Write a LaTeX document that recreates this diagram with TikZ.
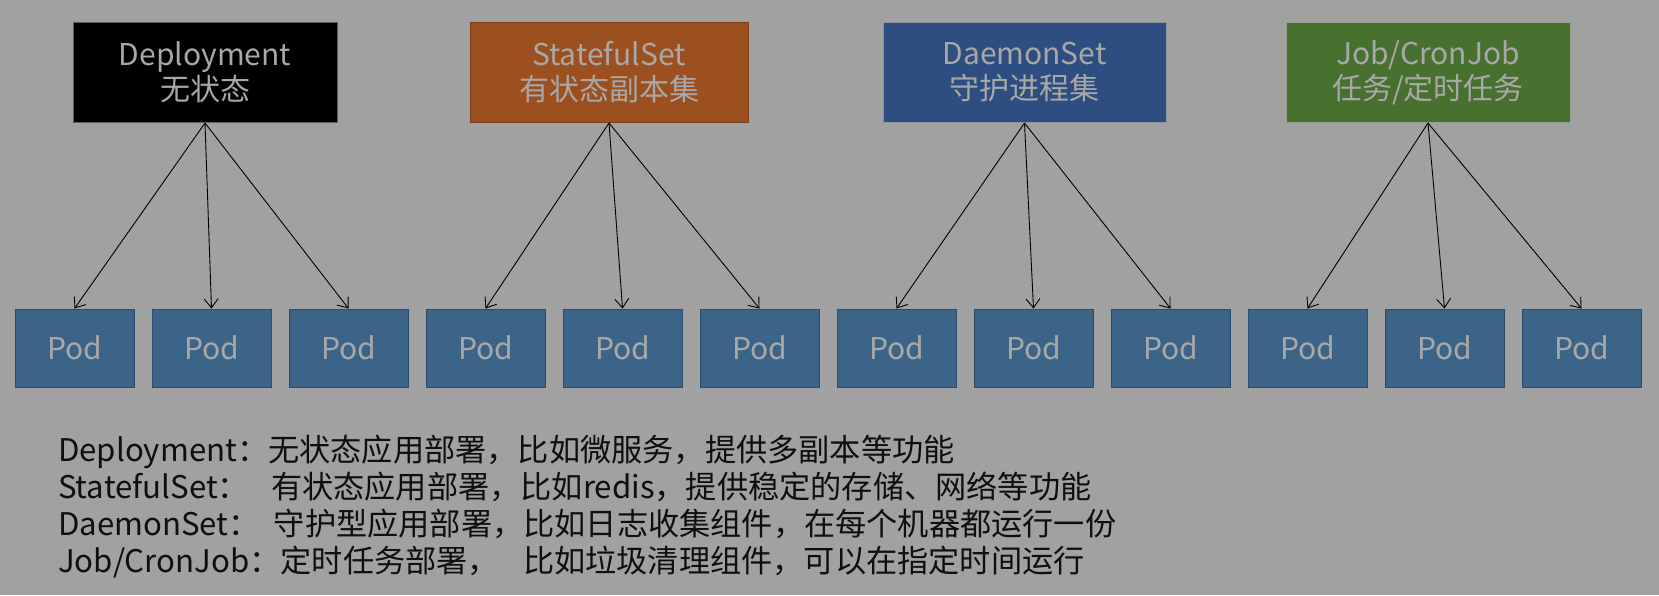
\documentclass[tikz,border=0pt]{standalone}
\usepackage{fontspec}
\setmainfont{Noto Sans CJK SC}
\usetikzlibrary{positioning, arrows.meta}

\definecolor{bggray}{RGB}{161,161,161}
\definecolor{boxtext}{RGB}{168,168,168}
\definecolor{desctext}{RGB}{15,15,15}
\definecolor{deplfill}{RGB}{0,0,0}
\definecolor{deplline}{RGB}{95,95,95}
\definecolor{stsfill}{RGB}{156,80,31}
\definecolor{stsline}{RGB}{122,62,24}
\definecolor{dsfill}{RGB}{46,77,128}
\definecolor{dsline}{RGB}{140,146,158}
\definecolor{jobfill}{RGB}{72,113,47}
\definecolor{jobline}{RGB}{150,160,145}
\definecolor{podfill}{RGB}{60,100,137}
\definecolor{podline}{RGB}{44,76,106}

\begin{document}
\begin{tikzpicture}[
			x=1pt, y=-1pt,
			node distance=17pt,
			ctrl/.style={rectangle, line width=1pt, minimum height=100pt, align=center, inner sep=0pt, text=boxtext, font=\fontsize{30}{35}\selectfont},
			pod/.style={rectangle, draw=podline, line width=1pt, fill=podfill, minimum width=119pt, minimum height=78pt, inner sep=0pt, text=boxtext, font=\fontsize{30}{36}\selectfont},
			arrow/.style={-{Straight Barb[length=9pt, width=14pt]}, line width=0.9pt, draw=black},
			desc/.style={anchor=base west, inner sep=0pt, text=desctext, font=\fontsize{31.2}{37}\selectfont}
			]
			
			% Background
			\fill[bggray] (0,0) rectangle (1659,595);
			\useasboundingbox (0,0) rectangle (1659,595);
			
			% Controllers - top row
			\node[ctrl, fill=deplfill, draw=deplline, minimum width=264pt] (deploy) at (205,72.5) {Deployment\\无状态};
			\node[ctrl, fill=stsfill, draw=stsline, minimum width=278pt, right=132pt of deploy] (sts) {StatefulSet\\有状态副本集};
			\node[ctrl, fill=dsfill, draw=dsline, minimum width=283pt, right=134pt of sts] (ds) {DaemonSet\\守护进程集};
			\node[ctrl, fill=jobfill, draw=jobline, minimum width=284pt, right=119pt of ds] (job) {Job/CronJob\\任务/定时任务};
			
			% Pods
			\node[pod] (pod1) at (74.5,348) {Pod};
			\node[pod, right=of pod1] (pod2) {Pod};
			\node[pod, right=of pod2] (pod3) {Pod};
			\node[pod, right=of pod3] (pod4) {Pod};
			\node[pod, right=of pod4] (pod5) {Pod};
			\node[pod, right=of pod5] (pod6) {Pod};
			\node[pod, right=of pod6] (pod7) {Pod};
			\node[pod, right=of pod7] (pod8) {Pod};
			\node[pod, right=of pod8] (pod9) {Pod};
			\node[pod, right=of pod9] (pod10) {Pod};
			\node[pod, right=of pod10] (pod11) {Pod};
			\node[pod, right=of pod11] (pod12) {Pod};
			
			% Arrows
			\draw[arrow] (deploy.south) -- (pod1.north);
			\draw[arrow] (deploy.south) -- (pod2.north);
			\draw[arrow] (deploy.south) -- (pod3.north);
			\draw[arrow] (sts.south) -- (pod4.north);
			\draw[arrow] (sts.south) -- (pod5.north);
			\draw[arrow] (sts.south) -- (pod6.north);
			\draw[arrow] (ds.south) -- (pod7.north);
			\draw[arrow] (ds.south) -- (pod8.north);
			\draw[arrow] (ds.south) -- (pod9.north);
			\draw[arrow] (job.south) -- (pod10.north);
			\draw[arrow] (job.south) -- (pod11.north);
			\draw[arrow] (job.south) -- (pod12.north);
			
			% Description lines
			\node[desc] (desc1) at (58,461) {Deployment：无状态应用部署，比如微服务，提供多副本等功能};
			\node[desc] (desc2) at (58,498) {StatefulSet：\hspace{22pt}有状态应用部署，比如redis，提供稳定的存储、网络等功能};
			\node[desc] (desc3) at (58,535) {DaemonSet：\hspace{14pt}守护型应用部署，比如日志收集组件，在每个机器都运行一份};
			\node[desc] (desc4) at (58,572) {Job/CronJob：定时任务部署，\hspace{24pt}比如垃圾清理组件，可以在指定时间运行};
			
\end{tikzpicture}
\end{document}
